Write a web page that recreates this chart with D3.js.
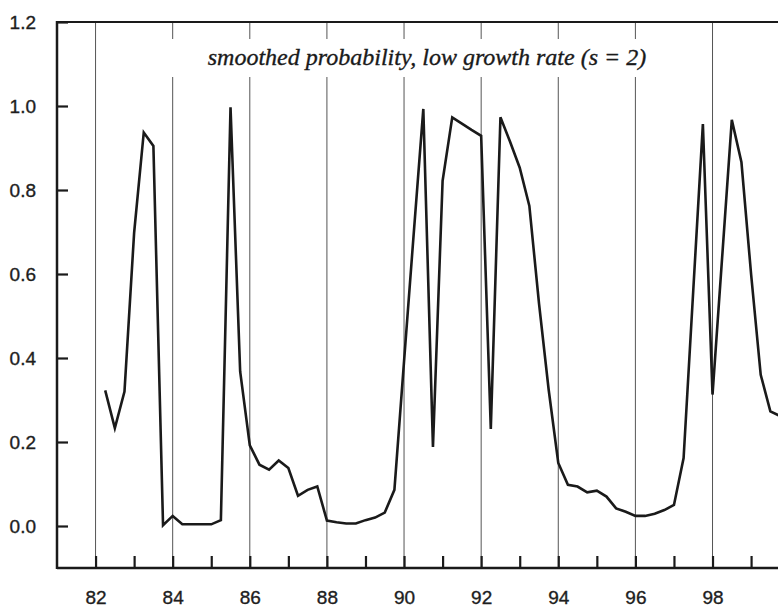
<!DOCTYPE html>
<html>
<head>
<meta charset="utf-8">
<script src="https://cdn.jsdelivr.net/npm/d3@7"></script>
<style>
html, body { margin: 0; padding: 0; background: #fff; }
svg { display: block; }
</style>
</head>
<body>
<svg id="chart" width="778" height="608"></svg>
<script>
const quarters = [
  82.25, 82.5, 82.75, 83.0, 83.25, 83.5, 83.75, 84.0, 84.25, 84.5, 84.75, 85.0,
  85.25, 85.5, 85.75, 86.0, 86.25, 86.5, 86.75, 87.0, 87.25, 87.5, 87.75, 88.0,
  88.25, 88.5, 88.75, 89.0, 89.25, 89.5, 89.75, 90.0, 90.25, 90.5, 90.75, 91.0,
  91.25, 91.5, 91.75, 92.0, 92.25, 92.5, 92.75, 93.0, 93.25, 93.5, 93.75, 94.0,
  94.25, 94.5, 94.75, 95.0, 95.25, 95.5, 95.75, 96.0, 96.25, 96.5, 96.75, 97.0,
  97.25, 97.5, 97.75, 98.0, 98.25, 98.5, 98.75, 99.0, 99.25, 99.5, 99.75
];
const probLow = [
  0.323, 0.233, 0.320, 0.698, 0.937, 0.905, 0.002, 0.024, 0.004, 0.004, 0.004, 0.004,
  0.014, 0.997, 0.368, 0.192, 0.146, 0.134, 0.156, 0.138, 0.072, 0.086, 0.094, 0.013,
  0.009, 0.006, 0.006, 0.014, 0.020, 0.032, 0.086, 0.392, 0.695, 0.993, 0.188, 0.822,
  0.973, 0.958, 0.943, 0.929, 0.231, 0.973, 0.915, 0.853, 0.762, 0.530, 0.325, 0.150,
  0.098, 0.094, 0.080, 0.084, 0.070, 0.042, 0.034, 0.024, 0.024, 0.029, 0.038, 0.050,
  0.162, 0.560, 0.957, 0.313, 0.640, 0.967, 0.866, 0.600, 0.360, 0.273, 0.262
];
const xTickLabels = ["82", "84", "86", "88", "90", "92", "94", "96", "98"];
const xMinorTicks = [82, 83, 84, 85, 86, 87, 88, 89, 90, 91, 92, 93, 94, 95, 96, 97, 98, 99];
const yTickLabels = ["0.0", "0.2", "0.4", "0.6", "0.8", "1.0", "1.2"];
const titleText = "smoothed probability, low growth rate (s = 2)";

const svg = d3.select("#chart");
const pLeft = 57, pTop = 22, pBottom = 568;
const x = d3.scaleLinear().domain([81, 100]).range([pLeft, pLeft + 19 * 38.56]);
const y = d3.scaleLinear().domain([-0.1, 1.2]).range([pBottom, pTop]);
const pRight = x(100);

// vertical grid lines at labelled years
svg.append("g").selectAll("line")
  .data(xTickLabels.map(Number))
  .join("line")
  .attr("x1", d => x(d)).attr("x2", d => x(d))
  .attr("y1", pTop).attr("y2", pBottom)
  .attr("stroke", "#555").attr("stroke-width", 1);

// white box behind title
svg.append("rect")
  .attr("x", 150).attr("y", 39).attr("width", 540).attr("height", 38)
  .attr("fill", "#fff");

svg.append("text")
  .attr("x", 427).attr("y", 65)
  .attr("text-anchor", "middle")
  .attr("font-family", "Liberation Serif, Times New Roman, serif")
  .attr("font-style", "italic")
  .attr("font-size", 24)
  .attr("fill", "#1a1a1a")
  .attr("stroke", "#1a1a1a").attr("stroke-width", 0.35)
  .text(titleText);

// frame
const frame = svg.append("g").attr("stroke", "#1a1a1a").attr("fill", "none");
frame.append("line").attr("x1", pLeft).attr("x2", pRight).attr("y1", pTop).attr("y2", pTop).attr("stroke-width", 2.2);
frame.append("line").attr("x1", pLeft).attr("x2", pRight).attr("y1", pBottom).attr("y2", pBottom).attr("stroke-width", 2.5);
frame.append("line").attr("x1", pLeft).attr("x2", pLeft).attr("y1", pTop - 1).attr("y2", pBottom + 1).attr("stroke-width", 2.5);

// y axis (inward ticks)
const yAxis = d3.axisRight(y)
  .tickValues(yTickLabels.map(Number))
  .tickSize(11)
  .tickFormat(d => d3.format(".1f")(d));
const gy = svg.append("g").attr("transform", `translate(${pLeft},0)`).call(yAxis);
gy.select(".domain").remove();
gy.selectAll(".tick line").attr("stroke", "#1a1a1a").attr("stroke-width", 2.2);
gy.selectAll(".tick text")
  .attr("x", -21).attr("dy", "0.36em")
  .attr("text-anchor", "end")
  .attr("font-family", "Liberation Sans, Arial, sans-serif")
  .attr("font-size", 19)
  .attr("fill", "#1e1e1e")
  .attr("stroke", "#1e1e1e").attr("stroke-width", 0.35);

// x axis (ticks pointing up, labels below)
const xAxis = d3.axisTop(x)
  .tickValues(xMinorTicks)
  .tickSize(12)
  .tickFormat(d => xTickLabels.includes(String(d)) ? String(d) : "");
const gx = svg.append("g").attr("transform", `translate(0,${pBottom})`).call(xAxis);
gx.select(".domain").remove();
gx.selectAll(".tick line").attr("stroke", "#1a1a1a").attr("stroke-width", 2.2);
gx.selectAll(".tick text")
  .attr("y", 36).attr("dy", 0)
  .attr("font-family", "Liberation Sans, Arial, sans-serif")
  .attr("font-size", 19)
  .attr("fill", "#1e1e1e")
  .attr("stroke", "#1e1e1e").attr("stroke-width", 0.35);

// series
const series = quarters.map((q, i) => ({ q, v: probLow[i] }));
svg.append("path")
  .datum(series)
  .attr("fill", "none")
  .attr("stroke", "#1a1a1a")
  .attr("stroke-width", 2.6)
  .attr("stroke-linejoin", "miter")
  .attr("d", d3.line().x(d => x(d.q)).y(d => y(d.v)));
</script>
</body>
</html>
